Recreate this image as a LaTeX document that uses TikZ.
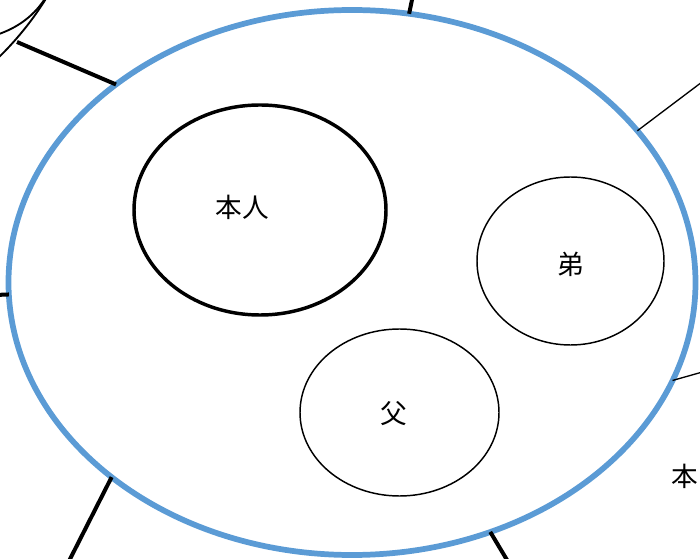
\documentclass[tikz,border=0pt]{standalone}
\usepackage{fontspec}
\newfontfamily\jpfont{Noto Sans CJK JP}
\usetikzlibrary{shapes.geometric}
\definecolor{famblue}{RGB}{91,155,213}

\begin{document}
\begin{tikzpicture}[x=0.75pt, y=-0.75pt,
	circ/.style={draw, ellipse, inner sep=0pt, outer sep=0pt},
	kanji/.style={font=\jpfont\fontsize{20}{23}\selectfont, inner sep=0pt},
	bond/.style={line width=3pt},
	thinbond/.style={line width=1pt}]
	\clip (0,0) rectangle (700,559);
	% family circle and members
	\node[circ, draw=famblue, line width=4.3pt, minimum width=515.25pt, minimum height=408.75pt] (family) at (352,282.5) {};
	\node[circ, line width=2.6pt, minimum width=189pt, minimum height=157.5pt] (selfcirc) at (260,210) {};
	\node[circ, line width=1.1pt, minimum width=140.25pt, minimum height=126pt] (brothercirc) at (570.5,261) {};
	\node[circ, line width=1.1pt, minimum width=149.25pt, minimum height=125.25pt] (fathercirc) at (399.5,412.5) {};
	\node[kanji] (self) at (242,207) {本人};
	\node[kanji] (brother) at (571,264) {弟};
	\node[kanji] (father) at (394,414) {父};
	\node[kanji] (other) at (685,476) {本};
	% neighbouring circles
	\draw[line width=1.4pt] (-4,35) .. controls (18,28) and (35,15) .. (46,-3);
	\draw[line width=1.4pt] (-4,60) .. controls (15,42) and (33,20) .. (47,-3);
	% links leaving the family
	\coordinate (topleft) at (17,42);
	\coordinate (top) at (413,-5);
	\coordinate (right) at (706,79);
	\coordinate (left) at (-5,295);
	\coordinate (lowright) at (706,371);
	\coordinate (botleft) at (67,565);
	\coordinate (bottom) at (510,565);
	\draw[bond] (family.140.9) -- (topleft);
	\draw[bond] (family.78.5) -- (top);
	\draw[thinbond] (family.28.7) -- (right);
	\draw[bond] (family.182.1) -- (left);
	\draw[thinbond] (family.343.9) -- (lowright);
	\draw[bond] (family.219.6) -- (botleft);
	\draw[bond] (family.299.3) -- (bottom);
\end{tikzpicture}
\end{document}
